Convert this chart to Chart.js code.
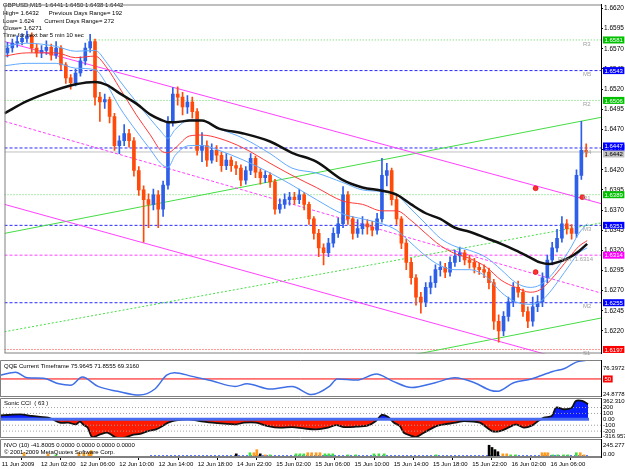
<!DOCTYPE html>
<html>
<head>
<meta charset="utf-8">
<script src="https://cdn.jsdelivr.net/npm/chart.js@4.4.1/dist/chart.umd.min.js"></script>
<style>
  body { margin: 0; background: #fff; width: 625px; height: 469px; overflow: hidden; position: relative; }
  canvas { position: absolute; left: 0; }
</style>
</head>
<body>
<canvas id="mainChart" width="625" height="358" style="top:0"></canvas>
<canvas id="qqeChart" width="625" height="37" style="top:360px"></canvas>
<canvas id="cciChart" width="625" height="40" style="top:398px"></canvas>
<canvas id="nvoChart" width="625" height="30" style="top:439px"></canvas>
<script>
// GBPUSD M15 - candles grouped by 30 min, x = candle number
const opens = [
  1.6565,1.6571,1.6577,1.6579,1.6583,1.6586,1.6571,1.6565,1.6568,1.6572,
  1.6562,1.6571,1.6550,1.6534,1.6528,1.6540,1.6555,1.6571,1.6579,1.6510,
  1.6504,1.6507,1.6486,1.6450,1.6456,1.6465,1.6456,1.6419,1.6395,1.6383,
  1.6377,1.6389,1.6371,1.6401,1.6480,1.6514,1.6510,1.6498,1.6504,1.6492,
  1.6444,1.6450,1.6432,1.6444,1.6438,1.6425,1.6432,1.6425,1.6422,1.6407,
  1.6419,1.6434,1.6417,1.6410,1.6413,1.6405,1.6371,1.6377,1.6383,1.6386,
  1.6383,1.6389,1.6377,1.6359,1.6341,1.6323,1.6317,1.6329,1.6341,1.6353,
  1.6389,1.6359,1.6341,1.6347,1.6353,1.6349,1.6345,1.6359,1.6413,1.6419,
  1.6383,1.6359,1.6329,1.6305,1.6286,1.6262,1.6256,1.6274,1.6280,1.6296,
  1.6299,1.6293,1.6305,1.6313,1.6317,1.6308,1.6305,1.6299,1.6296,1.6293,
  1.6280,1.6232,1.6220,1.6238,1.6256,1.6274,1.6268,1.6244,1.6232,1.6250,
  1.6256,1.6286,1.6308,1.6323,1.6335,1.6353,1.6347,1.6341,1.6413,1.6444
];
const highs = [
  1.6578,1.6582,1.6586,1.6589,1.6592,1.6590,1.6576,1.6574,1.6580,1.6576,
  1.6579,1.6574,1.6553,1.6538,1.6545,1.6560,1.6577,1.6588,1.6582,1.6516,
  1.6514,1.6510,1.6490,1.6462,1.6476,1.6470,1.6460,1.6424,1.6400,1.6390,
  1.6396,1.6394,1.6406,1.6486,1.6522,1.6523,1.6516,1.6512,1.6510,1.6496,
  1.6466,1.6456,1.6452,1.6450,1.6442,1.6440,1.6436,1.6430,1.6426,1.6424,
  1.6440,1.6437,1.6421,1.6418,1.6416,1.6408,1.6384,1.6390,1.6392,1.6392,
  1.6396,1.6392,1.6380,1.6362,1.6346,1.6328,1.6335,1.6348,1.6360,1.6399,
  1.6393,1.6362,1.6358,1.6362,1.6358,1.6356,1.6366,1.6434,1.6428,1.6422,
  1.6388,1.6362,1.6334,1.6310,1.6290,1.6268,1.6280,1.6288,1.6302,1.6306,
  1.6304,1.6312,1.6320,1.6324,1.6320,1.6314,1.6310,1.6304,1.6302,1.6298,
  1.6284,1.6240,1.6244,1.6262,1.6280,1.6282,1.6272,1.6250,1.6262,1.6264,
  1.6292,1.6314,1.6330,1.6346,1.6362,1.6358,1.6352,1.6420,1.6480,1.6452
];
const lows = [
  1.6560,1.6566,1.6572,1.6575,1.6578,1.6566,1.6560,1.6559,1.6563,1.6556,
  1.6558,1.6544,1.6527,1.6520,1.6524,1.6536,1.6550,1.6566,1.6500,1.6480,
  1.6496,1.6478,1.6444,1.6440,1.6450,1.6448,1.6412,1.6388,1.6330,1.6348,
  1.6370,1.6348,1.6362,1.6396,1.6474,1.6500,1.6488,1.6490,1.6484,1.6438,
  1.6430,1.6424,1.6428,1.6430,1.6418,1.6420,1.6418,1.6414,1.6400,1.6402,
  1.6414,1.6410,1.6402,1.6404,1.6398,1.6365,1.6366,1.6372,1.6376,1.6377,
  1.6378,1.6370,1.6352,1.6334,1.6312,1.6302,1.6312,1.6324,1.6336,1.6348,
  1.6352,1.6334,1.6336,1.6340,1.6340,1.6338,1.6340,1.6355,1.6400,1.6376,
  1.6352,1.6322,1.6296,1.6278,1.6252,1.6242,1.6250,1.6266,1.6274,1.6288,
  1.6286,1.6288,1.6300,1.6306,1.6302,1.6298,1.6292,1.6290,1.6286,1.6272,
  1.6222,1.6206,1.6214,1.6232,1.6250,1.6262,1.6238,1.6224,1.6226,1.6244,
  1.6250,1.6280,1.6302,1.6318,1.6330,1.6340,1.6334,1.6336,1.6408,1.6436
];
const closes = [
  1.6571,1.6577,1.6579,1.6583,1.6586,1.6571,1.6565,1.6568,1.6572,1.6562,
  1.6571,1.6550,1.6534,1.6528,1.6540,1.6555,1.6571,1.6579,1.6510,1.6504,
  1.6507,1.6486,1.6450,1.6456,1.6465,1.6456,1.6419,1.6395,1.6383,1.6377,
  1.6389,1.6371,1.6401,1.6480,1.6514,1.6510,1.6498,1.6504,1.6492,1.6444,
  1.6450,1.6432,1.6444,1.6438,1.6425,1.6432,1.6425,1.6422,1.6407,1.6419,
  1.6434,1.6417,1.6410,1.6413,1.6405,1.6371,1.6377,1.6383,1.6386,1.6383,
  1.6389,1.6377,1.6359,1.6341,1.6323,1.6317,1.6329,1.6341,1.6353,1.6389,
  1.6359,1.6341,1.6347,1.6353,1.6349,1.6345,1.6359,1.6413,1.6419,1.6383,
  1.6359,1.6329,1.6305,1.6286,1.6262,1.6256,1.6274,1.6280,1.6296,1.6299,
  1.6293,1.6305,1.6313,1.6317,1.6308,1.6305,1.6299,1.6296,1.6293,1.6280,
  1.6232,1.6220,1.6238,1.6256,1.6274,1.6268,1.6244,1.6232,1.6250,1.6256,
  1.6286,1.6308,1.6323,1.6335,1.6353,1.6347,1.6341,1.6413,1.6444,1.6442
];

// moving averages / bands
const bandAt = [-0.6,4,10,14,18,20.5,23,26.5,29.5,31.5,33,34.5,37.5,40,43.5,48.5,54,58.5,63.5,69,
  73,77,80,83,86,89,92,95,98.5,101.5,104.5,107.5,109.5,111.5,113.5,115.5,117.5,119.2];
const bandUpper = [1.6573,1.6577,1.6573,1.6567,1.6568,1.6552,1.6531,1.6504,1.6482,1.6468,
  1.6459,1.6470,1.6482,1.6481,1.6471,1.6459,1.6440,1.6422,1.6416,1.6404,
  1.6395,1.6393,1.6389,1.6371,1.6353,1.6335,1.6325,1.6320,1.6311,1.6296,
  1.6280,1.6274,1.6277,1.6287,1.6302,1.6320,1.6341,1.6353];
const maRed = [1.6561,1.6565,1.6565,1.6559,1.6561,1.6546,1.6522,1.6488,1.6462,1.6444,
  1.6441,1.6447,1.6462,1.6463,1.6459,1.6447,1.6428,1.6413,1.6398,1.6381,
  1.6377,1.6369,1.6369,1.6357,1.6341,1.6326,1.6316,1.6310,1.6299,1.6283,
  1.6274,1.6268,1.6271,1.6282,1.6296,1.6311,1.6325,1.6332];
const bandLower = [1.6549,1.6552,1.6552,1.6546,1.6544,1.6525,1.6498,1.6468,1.6444,1.6428,
  1.6423,1.6438,1.6450,1.6450,1.6444,1.6432,1.6416,1.6401,1.6383,1.6365,
  1.6359,1.6353,1.6345,1.6329,1.6313,1.6301,1.6296,1.6296,1.6287,1.6268,
  1.6256,1.6253,1.6256,1.6268,1.6284,1.6301,1.6317,1.6323];
const maBlack = [1.6490,1.6505,1.6519,1.6526,1.6529,1.6525,1.6515,1.6502,1.6488,1.6482,
  1.6479,1.6479,1.6481,1.6481,1.6471,1.6465,1.6455,1.6441,1.6430,1.6407,
  1.6398,1.6394,1.6389,1.6377,1.6366,1.6359,1.6348,1.6343,1.6335,1.6328,
  1.6320,1.6311,1.6305,1.6303,1.6306,1.6311,1.6319,1.6328];

// signal dots
const dotAt = [108.6, 108.6, 118.2];
const dotVal = [1.6397, 1.6293, 1.6386];

// trend lines: [start price, end price] over the whole width
const magentaTop = [1.6579, 1.6378];
const magentaMid = [1.6480, 1.6267];
const magentaLow = [1.6377, 1.6172];
const greenTop = [1.6341, 1.6485];
const greenMid = [1.6219, 1.6354];
const greenLowAt = [83.1, 122.04];
const greenLow = [1.6190, 1.6236];

// pivot levels
const levelNames = ['R3', 'M5', 'R2', 'M4', 'R1', 'M3', 'Pivot', 'M2', 'S1'];
const levelVals = [1.6581, 1.6543, 1.6506, 1.6447, 1.6389, 1.6351, 1.6314, 1.6255, 1.6197];
const bidPrice = 1.6442;

const priceTicks = [1.6220,1.6245,1.6270,1.6295,1.6320,1.6345,1.6370,1.6395,1.6420,
  1.6445,1.6470,1.6495,1.6520,1.6545,1.6570,1.6595,1.6620];

// QQE
const qqeAt = [-0.6,2.6,5,8.2,11.4,13.8,16.2,19.4,23.4,27.8,31,33.4,35,38.6,42.6,47.4,49.8,54.6,59,63,
  66.6,68.2,72.2,76.2,79.4,83.4,88.2,92.2,96.2,99.4,101,104.2,107.8,112.2,114.6,117,119];
const qqeVal = [55.2,59.4,51.6,51,43.2,41.2,52.6,39.6,32.8,27.6,36,55.2,58.8,53.6,47.4,39.6,43.2,36,39.6,28.2,
  39.6,50,48.4,56.8,47.4,38,44.8,51.6,44.8,34.4,32.8,44.8,50,60.4,64.6,73.4,76];

// Sonic CCI
const cciAt = [-0.6,1,3.5,5.9,7.6,9.2,10,11.6,13.3,14.9,15.7,16.5,17.3,18.2,19.8,21.4,23.1,24.7,26.3,28,
  29.6,31.2,32.9,33.7,35.3,37.8,40.2,42.7,45.1,47.6,49.2,51.6,54.1,56.5,59,61.4,63.9,66.3,68,69.6,
  72,74.5,76.1,77.3,78.6,79.8,81,81.8,83.5,84.3,85.9,88.4,90,92.4,94.1,97.3,99.8,101.4,103.1,104.7,
  106.3,108,109.2,110.4,112,112.9,114.5,116.1,116.9,118.2,119.4];
const cciVal = [68,74,85,57,40,28,5,-57,-57,-85,-40,-97,-142,-302,-256,-228,-313,-313,-268,-245,
  -200,-171,-97,-57,-17,0,-28,-57,-74,-85,-57,-57,-114,-142,-131,-154,-171,-142,-97,-131,
  -125,-103,-28,74,40,-57,-114,-228,-285,-302,-228,-114,-85,-57,-28,-57,-200,-200,-142,-85,
  -142,-103,-28,28,57,200,171,200,313,313,256];
const cciLevels = [200, 100, -100, -200];

// NVO histogram
const nvoAt = [4.3,9.2,10.8,15.5,16.5,17.5,18,47.6,50.4,51.2,51.8,52.5,53.5,54.5,59.8,60.6,61.4,62.2,63,63.9,
  64.7,65.7,66.5,67.3,70.4,72,75.7,76.7,77.8,88.4,99.2,99.8,100.4,101,102,102.8,103.6,104.6,110,110.6,
  111.2,112.2,113.2,114.4,115.3,117,117.8,118.6];
const nvoVal = [58,43,29,58,58,58,86,43,58,58,100,43,29,29,43,43,43,58,58,58,
  58,43,43,43,29,29,43,43,43,29,160,130,100,72,43,43,29,29,58,58,
  58,29,29,29,29,58,58,29];
const nvoKind = 'oogooookgookoggggoooogggggggggkkkkooggooogggggoog';

const xLabels = ['11 Jun 2009','12 Jun 02:00','12 Jun 06:00','12 Jun 10:00','12 Jun 14:00','12 Jun 18:00',
  '14 Jun 22:00','15 Jun 02:00','15 Jun 06:00','15 Jun 10:00','15 Jun 14:00','15 Jun 18:00',
  '15 Jun 22:00','16 Jun 02:00','16 Jun 06:00'];

// ---- look ----
const xMin = -0.61, xMax = 122.04;
const axisW = 24;
const FONT = '"Liberation Sans", Arial, sans-serif';
const TXT = '6px ' + FONT;
const bull = '#2d5fe8', bear = '#ff4a0a';
const r3From = 16.3;
Chart.defaults.font.family = FONT;

function pts(xs, ys) { return xs.map(function(x, i) { return { x: x, y: ys[i] }; }); }

function lineDs(data, color, width, dash, order) {
    return {
        type: 'line', data: data, borderColor: color, borderWidth: width,
        borderDash: dash || [], pointRadius: 0, fill: false, order: order,
        cubicInterpolationMode: 'monotone'
    };
}

function xScale(show) {
    return { type: 'linear', min: xMin, max: xMax, offset: false, display: show, grid: { display: false, offset: false } };
}

function rightAxis(extra) {
    return Object.assign({
        position: 'right', beginAtZero: false,
        afterFit: function(s) { s.width = axisW; s.paddingTop = 0; s.paddingBottom = 0; },
        ticks: { display: false },
        grid: { display: false },
        border: { display: true, color: '#000' }
    }, extra);
}

function baseOptions(yOpts, xOpts) {
    return {
        responsive: false, animation: false, devicePixelRatio: 1,
        layout: { padding: 0 },
        plugins: { legend: { display: false }, tooltip: { enabled: false } },
        scales: { x: xOpts || xScale(false), y: rightAxis(yOpts) }
    };
}

function levelStyle(name) {
    if (name[0] === 'R') return { color: '#5ad45a', dash: [1, 2], box: '#00c000' };
    if (name[0] === 'M') return { color: '#2828ff', dash: [3, 2], box: '#0000ff' };
    if (name[0] === 'P') return { color: '#ff40ff', dash: [3, 2], box: '#ff00ff' };
    return { color: '#ff3030', dash: [1, 2], box: '#ff0000' };
}

function frame(ctx, a) {
    ctx.strokeStyle = '#808080';
    ctx.lineWidth = 1;
    ctx.beginPath();
    ctx.moveTo(a.left + 0.5, a.bottom - 0.5);
    ctx.lineTo(a.left + 0.5, a.top + 0.5);
    ctx.lineTo(a.right, a.top + 0.5);
    ctx.moveTo(a.left, a.bottom - 0.5);
    ctx.lineTo(a.right, a.bottom - 0.5);
    ctx.stroke();
}

function axisBox(ctx, a, py, text, bg, fg) {
    ctx.font = TXT;
    const w = ctx.measureText(text).width + 3;
    ctx.fillStyle = bg;
    ctx.fillRect(a.right + 2, py - 3.5, w, 7);
    ctx.fillStyle = fg;
    ctx.textAlign = 'left';
    ctx.textBaseline = 'middle';
    ctx.fillText(text, a.right + 3.5, py + 0.5);
}

// texts for the sub windows
function panelDecor(id, title, labels) {
    return {
        id: id,
        afterDraw: function(chart) {
            const ctx = chart.ctx, a = chart.chartArea, y = chart.scales.y;
            ctx.save();
            frame(ctx, a);
            ctx.fillStyle = '#000';
            ctx.font = TXT;
            ctx.textBaseline = 'middle';
            ctx.textAlign = 'left';
            title.forEach(function(t) { ctx.fillText(t[0], 4, a.top + t[1]); });
            labels.forEach(function(l) {
                const py = y.getPixelForValue(l.v) + (l.dy || 0);
                if (l.box) {
                    axisBox(ctx, a, py, l.text, l.box, '#fff');
                } else {
                    ctx.fillStyle = '#000';
                    ctx.font = TXT;
                    ctx.textBaseline = 'middle';
                    ctx.fillText(l.text, a.right + 2, py);
                }
            });
            ctx.restore();
        }
    };
}

document.addEventListener('DOMContentLoaded', function() {

    // Main price window
    const candleCol = closes.map(function(c, i) { return c >= opens[i] ? bull : bear; });
    const mainSets = [];

    levelNames.forEach(function(name, i) {
        const st = levelStyle(name);
        const from = name === 'R3' ? r3From : xMin;
        mainSets.push(lineDs([{ x: from, y: levelVals[i] }, { x: xMax, y: levelVals[i] }], st.color, 1, st.dash, 9));
    });
    mainSets.push(lineDs([{ x: xMin, y: bidPrice }, { x: xMax, y: bidPrice }], '#c0c0c0', 1, [], 9));

    mainSets.push(lineDs(pts([xMin, xMax], magentaTop), '#ff40ff', 1, [], 8));
    mainSets.push(lineDs(pts([xMin, xMax], magentaMid), '#ff40ff', 1, [3, 2], 8));
    mainSets.push(lineDs(pts([xMin, xMax], magentaLow), '#ff40ff', 1, [], 8));
    mainSets.push(lineDs(pts([xMin, xMax], greenTop), '#44dd44', 1, [], 8));
    mainSets.push(lineDs(pts([xMin, xMax], greenMid), '#44dd44', 1, [2, 2], 8));
    mainSets.push(lineDs(pts(greenLowAt, greenLow), '#44dd44', 1, [], 8));

    mainSets.push({
        type: 'bar', order: 6, grouped: false, barThickness: 1,
        data: closes.map(function(c, i) { return { x: i, y: [lows[i], highs[i]] }; }),
        backgroundColor: candleCol
    });
    mainSets.push({
        type: 'bar', order: 5, grouped: false, barThickness: 3,
        data: closes.map(function(c, i) { return { x: i, y: [opens[i], c] }; }),
        backgroundColor: candleCol
    });

    mainSets.push(lineDs(pts(bandAt, bandUpper), '#62aaff', 1, [], 3));
    mainSets.push(lineDs(pts(bandAt, bandLower), '#62aaff', 1, [], 3));
    mainSets.push(lineDs(pts(bandAt, maRed), '#ff3a3a', 1, [], 2));
    mainSets.push(lineDs(pts(bandAt, maBlack), '#111', 2.5, [], 1));

    mainSets.push({
        type: 'scatter', order: 0, data: pts(dotAt, dotVal),
        pointRadius: 2.5, pointBackgroundColor: '#ff3030', pointBorderColor: '#c00000', pointBorderWidth: 0.5
    });

    const mainDecor = {
        id: 'mainDecor',
        afterDatasetsDraw: function(chart) {
            const ctx = chart.ctx, y = chart.scales.y;
            ctx.save();
            ctx.fillStyle = '#000';
            ctx.font = TXT;
            ctx.textBaseline = 'middle';
            ctx.textAlign = 'left';
            ctx.fillText('GBPUSD,M15  1.6441 1.6450 1.6438 1.6442', 3, 5);
            ctx.fillText('High= 1.6432      Previous Days Range= 192', 3, 13);
            ctx.fillText('Low= 1.624      Current Days Range= 272', 3, 21);
            ctx.fillText('Close= 1.6271', 3, 28);
            ctx.fillText('Time for next bar 5 min 10 sec', 3, 35);

            ctx.fillStyle = '#a0a0a0';
            ctx.textBaseline = 'top';
            levelNames.forEach(function(name, i) {
                const py = y.getPixelForValue(levelVals[i]) + 1;
                if (name === 'Pivot') ctx.fillText('Pivot  1.6314', 558, py);
                else ctx.fillText(name, 583, py);
            });
            ctx.restore();
        },
        afterDraw: function(chart) {
            const ctx = chart.ctx, a = chart.chartArea, y = chart.scales.y;
            ctx.save();
            frame(ctx, a);
            levelNames.forEach(function(name, i) {
                axisBox(ctx, a, y.getPixelForValue(levelVals[i]), levelVals[i].toFixed(4), levelStyle(name).box, '#fff');
            });
            axisBox(ctx, a, y.getPixelForValue(bidPrice) + 2, bidPrice.toFixed(4), '#c0c0c0', '#000');
            axisBox(ctx, a, y.getPixelForValue(levelVals[3]) - 2, levelVals[3].toFixed(4), '#0000ff', '#fff');
            ctx.restore();
        }
    };

    new Chart(document.getElementById('mainChart').getContext('2d'), {
        type: 'bar',
        data: { datasets: mainSets },
        options: baseOptions({
            min: 1.6192, max: 1.6625,
            afterBuildTicks: function(s) { s.ticks = priceTicks.map(function(v) { return { value: v }; }); },
            ticks: { display: true, font: { size: 6.5 }, color: '#000', padding: 1, callback: function(v) { return v.toFixed(4); } },
            grid: { display: true, drawOnChartArea: false, tickLength: 2, color: '#000' }
        }),
        plugins: [mainDecor]
    });

    // QQE window
    new Chart(document.getElementById('qqeChart').getContext('2d'), {
        type: 'line',
        data: { datasets: [
            lineDs([{ x: xMin, y: 50 }, { x: xMax, y: 50 }], '#ff0000', 1, [], 2),
            lineDs(pts(qqeAt, qqeVal), '#3f6fe6', 1.5, [], 1)
        ] },
        options: baseOptions({ min: 24.8778, max: 76.3972 }),
        plugins: [panelDecor('qqeDecor', [['QQE Current Timeframe 75.9645 71.8555 69.3160', 6]], [
            { text: '76.3972', v: 76.3972, dy: 8 },
            { text: '50', v: 50, box: '#ff0000' },
            { text: '24.8778', v: 24.8778, dy: -3 }
        ])]
    });

    // Sonic CCI window
    const cciSets = cciLevels.map(function(v) {
        return lineDs([{ x: xMin, y: v }, { x: xMax, y: v }], '#a0a0a0', 1, [1, 2], 0);
    });
    cciSets.push({
        type: 'line', data: pts(cciAt, cciVal), order: 2,
        borderColor: '#111', borderWidth: 1.8, pointRadius: 0, tension: 0.3,
        fill: { target: 'origin', above: '#0a1eff', below: '#ff1a00' }
    });
    // thin trend strip along the zero line
    cciSets.push(lineDs([{ x: xMin, y: 0 }, { x: 119.6, y: 0 }], '#4a6cf0', 3, [], 1));
    new Chart(document.getElementById('cciChart').getContext('2d'), {
        type: 'line',
        data: { datasets: cciSets },
        options: baseOptions({ min: -316.957, max: 362.3105 }),
        plugins: [panelDecor('cciDecor', [['Sonic CCI  ( 63 )', 5]], [
            { text: '362.3105', v: 362.3105, dy: 3 },
            { text: '200', v: 200 },
            { text: '100', v: 100 },
            { text: '0.00', v: 0 },
            { text: '-100', v: -100 },
            { text: '-200', v: -200 },
            { text: '-316.957', v: -316.957, dy: -2 }
        ])]
    });

    // NVO window with the time axis
    const nvoColors = { o: '#ff9a1a', g: '#3ee03e', k: '#000', b: '#2850ff' };
    const timeAxis = xScale(true);
    timeAxis.afterBuildTicks = function(s) {
        s.ticks = xLabels.map(function(t, k) { return { value: k * 8 - 0.25 }; });
    };
    timeAxis.afterFit = function(s) { s.height = 12; s.paddingLeft = 0; s.paddingRight = 0; };
    timeAxis.ticks = {
        autoSkip: false, maxRotation: 0, align: 'start', padding: 1,
        font: { size: 6 }, color: '#000',
        callback: function(v, k) { return xLabels[k]; }
    };
    timeAxis.grid = { display: true, drawOnChartArea: false, tickLength: 3, color: '#000' };
    timeAxis.border = { display: true, color: '#808080' };

    new Chart(document.getElementById('nvoChart').getContext('2d'), {
        type: 'bar',
        data: { datasets: [
            lineDs([{ x: 30, y: 12 }, { x: 119.5, y: 12 }], '#2850ff', 1.5, [2, 2], 2),
            {
                type: 'bar', order: 1, barThickness: 2, grouped: false,
                data: pts(nvoAt, nvoVal),
                backgroundColor: nvoAt.map(function(x, i) { return nvoColors[nvoKind[i]]; })
            }
        ] },
        options: baseOptions({ min: 0, max: 245.2776 }, timeAxis),
        plugins: [panelDecor('nvoDecor', [
            ['NVO (10) -41.8005 0.0000 0.0000 0.0000 0.0000', 6],
            ['\u00a9 2001-2009 MetaQuotes Software Corp.', 13]
        ], [
            { text: '245.2776', v: 245.2776, dy: 6 },
            { text: '0.00', v: 0, dy: -3 }
        ])]
    });
});
</script>
</body>
</html>
